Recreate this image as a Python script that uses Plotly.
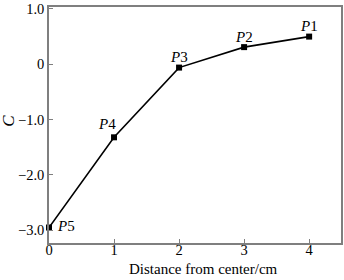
import plotly.graph_objects as go

distance = [0, 1, 2, 3, 4]
c_values = [-2.95, -1.32, -0.06, 0.31, 0.50]
point_labels = ["P5", "P4", "P3", "P2", "P1"]
x_ticks = [0, 1, 2, 3, 4]
y_ticks = [-3.0, -2.0, -1.0, 0, 1.0]
y_tick_text = ["\u22123.0", "\u22122.0", "\u22121.0", "0", "1.0"]

font = "Liberation Serif"

fig = go.Figure()
fig.add_trace(go.Scatter(
    x=distance, y=c_values, mode="lines+markers",
    line=dict(color="black", width=1.6),
    marker=dict(symbol="square", size=6, color="black"),
    cliponaxis=False, showlegend=False,
))

# label offsets (pixels) relative to each point
offsets = {"P5": (17, 2), "P4": (-7, 13), "P3": (0, 11), "P2": (0, 10), "P1": (0, 11)}
for xv, yv, lab in zip(distance, c_values, point_labels):
    dx, dy = offsets[lab]
    fig.add_annotation(x=xv, y=yv, xref="x", yref="y",
                       text="<i>P</i>" + lab[1:], showarrow=False,
                       xshift=dx, yshift=dy,
                       font=dict(family=font, size=15, color="black"))

axis_common = dict(
    showgrid=False, zeroline=False, showline=True, linecolor="#7f7f7f",
    linewidth=1.5, mirror=True, ticks="inside", ticklen=4, tickwidth=1,
    tickcolor="#7f7f7f", tickfont=dict(family=font, size=14.5, color="black"),
    ticklabeloverflow="allow",
)

fig.update_xaxes(range=[0, 4.49], tickvals=x_ticks, ticktext=[str(t) for t in x_ticks],
                 ticklabelstandoff=-7, **axis_common)
fig.update_yaxes(range=[-3.23, 1.035], tickvals=y_ticks, ticktext=y_tick_text,
                 **axis_common)

fig.add_annotation(text="Distance from center/cm", xref="paper", yref="paper",
                   x=0.53, y=-0.147, yanchor="bottom", xanchor="center", showarrow=False,
                   borderpad=0,
                   font=dict(family=font, size=15, color="black"))
fig.add_annotation(text="<i>C</i>", xref="paper", yref="paper",
                   x=-0.139, y=0.52, xanchor="center", yanchor="middle",
                   textangle=-90, showarrow=False,
                   font=dict(family=font, size=17, color="black"))

fig.update_layout(
    width=344, height=280,
    margin=dict(l=49, r=1, t=3, b=37),
    paper_bgcolor="white", plot_bgcolor="white",
)

fig.write_html("out.html")
